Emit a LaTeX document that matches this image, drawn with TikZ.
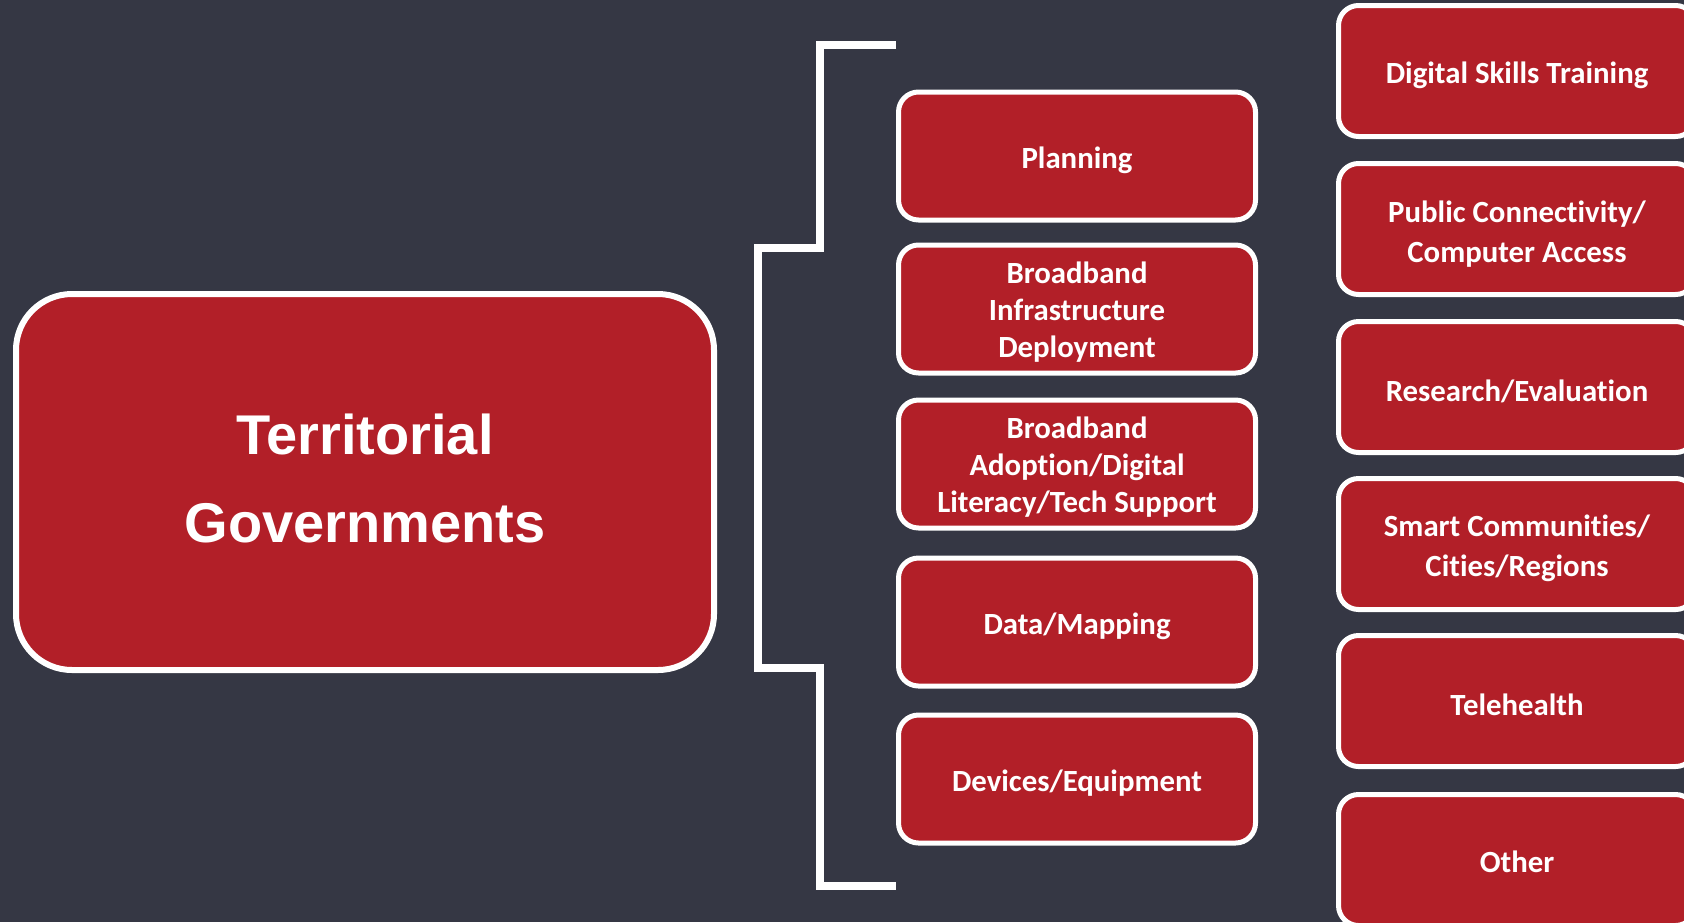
\documentclass[tikz,border=0pt]{standalone}
\usepackage{fontspec}
\setmainfont{Carlito}[Ligatures=NoCommon]
\newfontfamily\titlefont{Liberation Sans}
\usepackage{xcolor}
\usetikzlibrary{positioning}
\definecolor{slate}{HTML}{353744}
\definecolor{boxred}{HTML}{B21F28}
\newcommand{\padtop}[1]{\rule{0pt}{#1}}

\begin{document}
\begin{tikzpicture}[x=0.5pt,y=-0.5pt,
    areabox/.style={rectangle,rounded corners=10pt,draw=white,line width=2.5pt,
      fill=boxred,text=white,align=center,inner sep=0pt,
      font=\fontsize{15.4}{18.5}\selectfont\bfseries,
      execute at begin node={\rule{0pt}{15pt}},
      minimum width=178.5pt,minimum height=64pt},
    sidebox/.style={areabox,minimum height=65.5pt,
      font=\fontsize{15.4}{20}\selectfont\bfseries},
    bracketline/.style={draw=white,line width=4pt}]
    \useasboundingbox (0,0) rectangle (1684,922);
    \clip (0,0) rectangle (1684,922);
    \fill[slate] (0,0) rectangle (1684,922);

    % Title box
    \node[rectangle,rounded corners=28pt,draw=white,line width=3pt,fill=boxred,
      text=white,align=center,minimum width=349pt,minimum height=188pt,
      font=\titlefont\fontsize{28}{44}\selectfont\bfseries] (gov) at (365,482)
      {Territorial\\Governments\rule[-4.3pt]{0pt}{0pt}};

    % Bracket
    \coordinate (brtop) at (896,45);
    \coordinate (brbot) at (896,886);
    \draw[bracketline] (brtop) -- (820,45) -- (820,248) -- (758,248)
      -- (758,668) -- (820,668) -- (820,886) -- (brbot);

    % Middle column
    \node[areabox] (plan) at (1077,156) {Planning};
    \node[areabox] (infra) at (1077,309) {\padtop{13.5pt}Broadband\\Infrastructure\\Deployment};
    \node[areabox] (adopt) at (1077,464) {\padtop{13.5pt}Broadband\\Adoption/Digital\\Literacy/Tech Support};
    \node[areabox] (data) at (1077,622) {Data/Mapping};
    \node[areabox] (devices) at (1077,779) {Devices/Equipment};

    % Right column
    \node[sidebox] (skills) at (1517,71) {Digital Skills Training};
    \node[sidebox] (public) at (1517,229) {\padtop{15.5pt}Public Connectivity/\\Computer Access};
    \node[sidebox] (research) at (1517,387) {Research/Evaluation};
    \node[sidebox] (smart) at (1517,544) {\padtop{15.5pt}Smart Communities/\\Cities/Regions};
    \node[sidebox] (tele) at (1517,701) {Telehealth};
    \node[sidebox] (other) at (1517,860) {Other\rule[-3pt]{0pt}{0pt}};
\end{tikzpicture}
\end{document}
